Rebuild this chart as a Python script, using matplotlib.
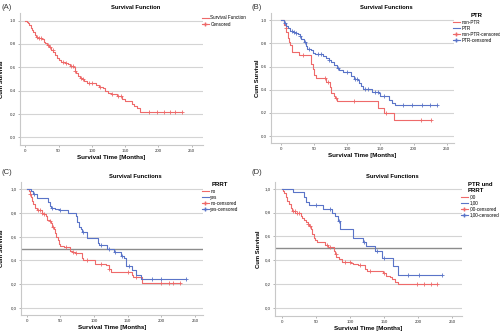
import numpy as np
import matplotlib
matplotlib.use("Agg")
import matplotlib.pyplot as plt
from matplotlib.lines import Line2D

plt.rcParams['font.family'] = ['Liberation Sans', 'DejaVu Sans']

RED = '#ee6a6a'
BLUE = '#5a74c8'

# Panel A - overall survival
A_t = [0, 2, 4, 5, 6, 8, 10, 12, 14, 16, 18, 22, 25, 28, 30, 33, 36, 39, 42, 45, 47, 50, 53, 60,
       64, 67, 72, 74, 76, 79, 82, 85, 88, 92, 106, 110, 116, 120, 124, 128, 138, 146, 150, 160,
       164, 168, 172]
A_s = [1.0, 0.99, 0.98, 0.97, 0.96, 0.94, 0.92, 0.90, 0.88, 0.86, 0.855, 0.85, 0.84, 0.82, 0.81,
       0.79, 0.77, 0.75, 0.73, 0.71, 0.68, 0.66, 0.65, 0.64, 0.63, 0.61, 0.60, 0.57, 0.55, 0.53,
       0.51, 0.50, 0.48, 0.47, 0.45, 0.43, 0.42, 0.40, 0.38, 0.37, 0.355, 0.33, 0.31, 0.29, 0.27,
       0.25, 0.22]
A_end = 235
A_cens = [17, 20, 23, 34, 37, 41, 57, 61, 69, 71, 75, 83, 86, 96, 100, 112, 130, 140, 144,
          186, 198, 208, 217, 225, 235]

# Panel B - PTR
Bn_t = [0, 5, 7, 8, 10, 12, 14, 16, 27, 45, 46, 48, 50, 53, 68, 74, 75, 80, 82, 84, 146, 156, 171]
Bn_s = [1.0, 0.96, 0.93, 0.90, 0.85, 0.81, 0.79, 0.73, 0.70, 0.66, 0.62, 0.58, 0.53, 0.50, 0.47,
        0.42, 0.37, 0.35, 0.33, 0.30, 0.245, 0.20, 0.135]
Bn_end = 227
Bn_cens = [7, 34, 66, 71, 83, 110, 158, 211, 227]

Bp_t = [0, 5, 8, 10, 14, 18, 22, 25, 28, 30, 35, 38, 40, 45, 48, 52, 64, 68, 72, 75, 80, 84, 88,
        93, 106, 110, 116, 118, 120, 124, 138, 148, 150, 163, 168, 172]
Bp_s = [1.0, 0.98, 0.95, 0.93, 0.91, 0.90, 0.89, 0.88, 0.86, 0.84, 0.81, 0.78, 0.75, 0.74, 0.72,
        0.71, 0.69, 0.67, 0.66, 0.64, 0.61, 0.59, 0.57, 0.55, 0.52, 0.49, 0.485, 0.46, 0.43, 0.41,
        0.38, 0.37, 0.345, 0.31, 0.29, 0.27]
Bp_end = 235
Bp_cens = [6, 17, 20, 23, 29, 36, 43, 56, 60, 73, 86, 100, 112, 115, 127, 131, 142, 146, 155,
           184, 198, 213, 225, 235]

# Panel C - PRRT
Cn_t = [0, 3, 5, 7, 8, 10, 13, 15, 22, 25, 28, 30, 34, 36, 38, 40, 42, 44, 46, 48, 50, 56, 65, 68,
        72, 82, 84, 102, 118, 122, 125, 126, 156, 158, 171]
Cn_s = [1.0, 0.98, 0.96, 0.93, 0.90, 0.87, 0.84, 0.82, 0.80, 0.79, 0.77, 0.74, 0.73, 0.71, 0.68,
        0.66, 0.63, 0.60, 0.57, 0.54, 0.52, 0.515, 0.48, 0.47, 0.46, 0.42, 0.40, 0.37, 0.36, 0.33,
        0.31, 0.30, 0.28, 0.26, 0.21]
Cn_end = 228
Cn_cens = [5, 17, 20, 23, 26, 35, 39, 58, 69, 73, 90, 110, 123, 150, 163, 200, 211, 218, 228]

Cy_t = [0, 7, 10, 15, 31, 34, 36, 42, 48, 61, 73, 75, 77, 80, 82, 89, 106, 108, 119, 129, 140,
        145, 147, 148, 156, 163, 170]
Cy_s = [1.0, 0.98, 0.96, 0.92, 0.89, 0.86, 0.84, 0.83, 0.82, 0.80, 0.77, 0.72, 0.68, 0.66, 0.635,
        0.585, 0.55, 0.53, 0.50, 0.47, 0.44, 0.42, 0.39, 0.355, 0.32, 0.28, 0.24]
Cy_end = 236
Cy_cens = [11, 37, 50, 84, 110, 122, 131, 142, 152, 186, 200, 236]

# Panel D - PTR und PRRT
Dn_t = [0, 2, 4, 6, 8, 10, 13, 15, 20, 28, 30, 33, 36, 38, 40, 43, 45, 47, 49, 52, 63, 68, 76, 78,
        80, 84, 88, 102, 105, 112, 122, 125, 148, 152, 158, 162, 166, 170]
Dn_s = [1.0, 0.98, 0.96, 0.93, 0.90, 0.87, 0.84, 0.81, 0.80, 0.77, 0.75, 0.74, 0.72, 0.70, 0.69,
        0.66, 0.62, 0.59, 0.57, 0.555, 0.53, 0.51, 0.48, 0.45, 0.43, 0.41, 0.385, 0.38, 0.37, 0.36,
        0.33, 0.31, 0.29, 0.27, 0.26, 0.24, 0.22, 0.20]
Dn_end = 227
Dn_cens = [16, 19, 22, 25, 39, 41, 66, 71, 79, 92, 100, 114, 130, 150, 198, 209, 218, 227]

Dy_t = [0, 16, 33, 35, 40, 61, 74, 78, 82, 86, 104, 105, 119, 123, 136, 147, 163, 171]
Dy_s = [1.0, 0.97, 0.93, 0.89, 0.86, 0.83, 0.80, 0.77, 0.73, 0.665, 0.63, 0.59, 0.555, 0.52,
        0.48, 0.42, 0.35, 0.28]
Dy_end = 235
Dy_cens = [50, 70, 84, 120, 140, 150, 185, 201, 235]


def km_curve(ax, t, s, end, cens, color):
    """Draw a step survival curve plus '+' censor marks."""
    t = np.asarray(t, float)
    s = np.asarray(s, float)
    ax.step(np.append(t, end), np.append(s, s[-1]), where='post', color=color, lw=0.8)
    c = np.asarray(cens, float)
    idx = np.searchsorted(t, c, side='right') - 1
    ax.plot(c, s[idx], '+', color=color, ms=2.5, mew=0.6, ls='none')


def style_axes(ax, xlim, ylim, comma, title, ylab_x):
    ax.set_xlim(*xlim)
    ax.set_ylim(*ylim)
    ax.set_xticks([0, 50, 100, 150, 200, 250])
    yt = [0.0, 0.2, 0.4, 0.6, 0.8, 1.0]
    ax.set_yticks(yt)
    labs = ['%.1f' % v for v in yt]
    if comma:
        labs = [l.replace('.', ',') for l in labs]
    ax.set_yticklabels(labs)
    for v in yt:
        ax.axhline(v, color='#d4d4d4', lw=0.8, zorder=0)
    for sp in ['top', 'right']:
        ax.spines[sp].set_visible(False)
    for sp in ['left', 'bottom']:
        ax.spines[sp].set_color('#c8c8c8')
        ax.spines[sp].set_linewidth(0.8)
    ax.tick_params(labelsize=3.2, length=1.5, width=0.5, color='#999999', pad=1.2,
                   labelcolor='#333333')
    ax.set_xlabel('Survival Time [Months]', fontsize=4.5, fontweight='bold', labelpad=1.5)
    ax.set_ylabel('Cum Survival', fontsize=4.2, fontweight='bold')
    ax.yaxis.set_label_coords(ylab_x, 0.5)
    ax.set_title(title, fontsize=4.2, fontweight='bold', pad=3, x=0.63)


def group_legend(ax, title, names, colors):
    handles = [Line2D([], [], color=c, lw=0.8) for c in colors]
    handles += [Line2D([], [], color=c, lw=0.8, marker='+', ms=2.5) for c in colors]
    labels = list(names) + [n + '-censored' for n in names]
    leg = ax.legend(handles, labels, title=title, loc='upper left', bbox_to_anchor=(0.99, 1.0),
                    frameon=False, fontsize=3.3,
                    title_fontproperties={'size': 4.3, 'weight': 'bold'},
                    handlelength=1.6, labelspacing=0.25, borderaxespad=0, handletextpad=0.3,
                    borderpad=0.1)
    leg._legend_box.align = 'center'


fig = plt.figure(figsize=(5, 3.32), dpi=100)

axA = fig.add_axes([0.04, 0.563, 0.366, 0.398])
km_curve(axA, A_t, A_s, A_end, A_cens, RED)
style_axes(axA, (-8, 267), (-0.066, 1.066), False, 'Survival Function', -0.087)
axA.legend([Line2D([], [], color=RED, lw=0.8),
            Line2D([], [], color=RED, lw=0.8, marker='+', ms=2.5)],
           ['Survival Function', 'Censored'], loc='upper left', bbox_to_anchor=(0.99, 0.985),
           frameon=False, fontsize=3.3, handlelength=1.6, labelspacing=0.25, borderaxespad=0,
           handletextpad=0.3, borderpad=0.1)

axB = fig.add_axes([0.542, 0.569, 0.366, 0.392])
km_curve(axB, Bn_t, Bn_s, Bn_end, Bn_cens, RED)
km_curve(axB, Bp_t, Bp_s, Bp_end, Bp_cens, BLUE)
style_axes(axB, (-15, 261), (-0.06, 1.063), False, 'Survival Functions', -0.06)
group_legend(axB, 'PTR', ['non-PTR', 'PTR'], [RED, BLUE])

axC = fig.add_axes([0.042, 0.051, 0.364, 0.401])
km_curve(axC, Cn_t, Cn_s, Cn_end, Cn_cens, RED)
km_curve(axC, Cy_t, Cy_s, Cy_end, Cy_cens, BLUE)
style_axes(axC, (-8.5, 262), (-0.059, 1.059), True, 'Survival Functions', -0.093)
axC.axhline(0.5, color='#8c8c8c', lw=1.0, zorder=1)
group_legend(axC, 'PRRT', ['no', 'yes'], [RED, BLUE])

axD = fig.add_axes([0.55, 0.048, 0.374, 0.404])
km_curve(axD, Dn_t, Dn_s, Dn_end, Dn_cens, RED)
km_curve(axD, Dy_t, Dy_s, Dy_end, Dy_cens, BLUE)
style_axes(axD, (-9.8, 264), (-0.067, 1.056), True, 'Survival Functions', -0.075)
axD.axhline(0.5, color='#8c8c8c', lw=1.0, zorder=1)
group_legend(axD, 'PTR und\nPRRT', [',00', '1,00'], [RED, BLUE])

for lab, x, y in [('(A)', 0.004, 0.988), ('(B)', 0.502, 0.988),
                  ('(C)', 0.004, 0.49), ('(D)', 0.502, 0.49)]:
    fig.text(x, y, lab, fontsize=5.5, va='top', ha='left', color='#333333')

fig.savefig('out.png', dpi=100)
